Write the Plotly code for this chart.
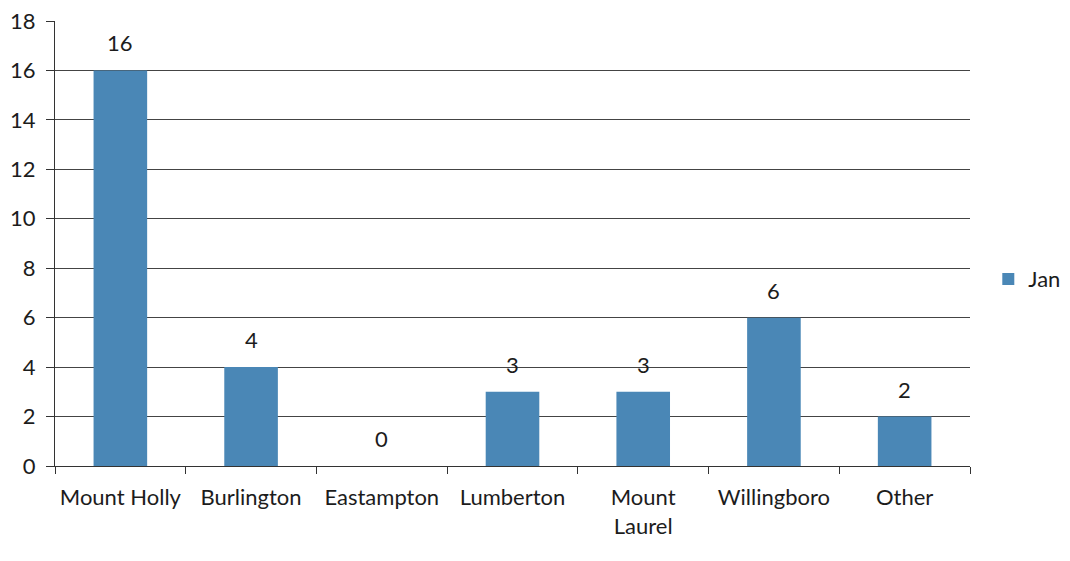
import plotly.graph_objects as go

categories = ["Mount Holly", "Burlington", "Eastampton", "Lumberton",
              "Mount<br>Laurel", "Willingboro", "Other"]
jan_values = [16, 4, 0, 3, 3, 6, 2]
y_ticks = [0, 2, 4, 6, 8, 10, 12, 14, 16, 18]

FONT = "Lato, 'Open Sans', sans-serif"
BAR = "#4a87b6"
INK = "#1c1c1c"

fig = go.Figure()
fig.add_trace(go.Bar(
    x=categories, y=jan_values, name="Jan",
    marker=dict(color=BAR, line=dict(width=0)),
))

# value labels sitting above each bar
for cat, val in zip(categories, jan_values):
    fig.add_annotation(x=cat, y=val, text=str(val), showarrow=False,
                       yanchor="bottom", yshift=12,
                       font=dict(size=22, color=INK, family=FONT))

fig.update_layout(
    width=1070, height=561,
    margin=dict(l=55, r=100, t=21, b=95, autoexpand=False),
    paper_bgcolor="white", plot_bgcolor="white",
    font=dict(family=FONT, size=22, color=INK),
    bargap=0.59,
    showlegend=True,
    legend=dict(x=1.02, y=0.42, xanchor="left", yanchor="middle",
                font=dict(size=22), itemwidth=30, tracegroupgap=0),
    xaxis=dict(showline=True, linecolor="#333", linewidth=1,
               ticks="outside", tickcolor="#333", ticklen=7,
               tickson="boundaries", showgrid=False, tickangle=0,
               ticklabelstandoff=12,
               tickfont=dict(size=22)),
    yaxis=dict(range=[0, 18], tickvals=y_ticks, showline=True,
               linecolor="#333", linewidth=1, ticks="outside",
               tickcolor="#333", ticklen=8, showgrid=True,
               gridcolor="#444", gridwidth=1, zeroline=False,
               ticklabelstandoff=6,
               tickfont=dict(size=22)),
)

fig.write_html("out.html")
